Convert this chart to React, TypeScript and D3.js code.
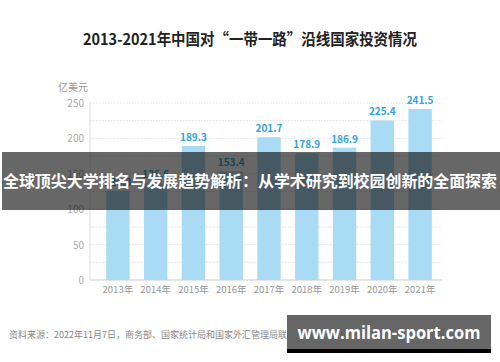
import React, { useEffect, useRef } from 'react'
import * as d3 from 'd3'

const years = ['2013年', '2014年', '2015年', '2016年', '2017年', '2018年', '2019年', '2020年', '2021年']
const values = [126.3, 136.6, 189.3, 153.4, 201.7, 178.9, 186.9, 225.4, 241.5]
const yTicks = [0, 50, 100, 150, 200, 250]
const gridTicks = [25, 50, 75, 100, 125, 150, 175, 200, 225, 250]

const title = '2013-2021年中国对“一带一路”沿线国家投资情况'
const unit = '亿美元'
const source = '资料来源：2022年11月7日，商务部、国家统计局和国家外汇管理局联合发布《2021年度中国对外直接投资统计公报》'
const banner = '全球顶尖大学排名与发展趋势解析：从学术研究到校园创新的全面探索'
const watermark = 'www.milan-sport.com'

const font = '"Noto Sans CJK SC", "Noto Sans", sans-serif'

const App = () => {
    const ref = useRef<SVGSVGElement>(null)

    useEffect(() => {
        const svg = d3.select(ref.current)
        svg.selectAll('*').remove()

        const x = d3.scaleBand<string>()
            .domain(years)
            .range([99, 439])
            .paddingInner(0.38)
            .paddingOuter(0.19)

        const y = d3.scaleLinear()
            .domain([0, 250])
            .range([280, 103])

        svg.append('rect').attr('width', 500).attr('height', 362).attr('fill', '#fff')

        svg.append('text')
            .attr('x', 250)
            .attr('y', 45)
            .attr('text-anchor', 'middle')
            .attr('font-family', font)
            .attr('font-size', 15.5)
            .attr('font-weight', 'bold')
            .attr('fill', '#222')
            .attr('textLength', 334)
            .attr('lengthAdjust', 'spacingAndGlyphs')
            .text(title)

        svg.append('text')
            .attr('x', 58)
            .attr('y', 91)
            .attr('font-family', font)
            .attr('font-size', 10)
            .attr('fill', '#999')
            .text(unit)

        // grid
        svg.append('g')
            .selectAll('line')
            .data(gridTicks)
            .enter()
            .append('line')
            .attr('x1', 90)
            .attr('x2', 442)
            .attr('y1', d => y(d))
            .attr('y2', d => y(d))
            .attr('stroke', '#d8d8d8')
            .attr('stroke-width', 0.8)
            .attr('stroke-dasharray', '1.5,1.5')

        svg.append('line')
            .attr('x1', 90).attr('x2', 90)
            .attr('y1', y(250)).attr('y2', y(0))
            .attr('stroke', '#ddd')

        svg.append('line')
            .attr('x1', 90).attr('x2', 442)
            .attr('y1', y(0)).attr('y2', y(0))
            .attr('stroke', '#ccc')
            .attr('stroke-width', 1.2)

        svg.append('g')
            .selectAll('text')
            .data(yTicks)
            .enter()
            .append('text')
            .attr('x', 84)
            .attr('y', d => y(d) + 4)
            .attr('text-anchor', 'end')
            .attr('font-family', font)
            .attr('font-size', 10)
            .attr('fill', '#aaa')
            .text(d => d)

        svg.append('g')
            .selectAll('rect')
            .data(values)
            .enter()
            .append('rect')
            .attr('x', (d, i) => x(years[i])!)
            .attr('y', d => y(d))
            .attr('width', x.bandwidth())
            .attr('height', d => y(0) - y(d))
            .attr('fill', '#a9dbf4')

        svg.append('g')
            .selectAll('text')
            .data(values)
            .enter()
            .append('text')
            .attr('x', (d, i) => x(years[i])! + x.bandwidth() / 2)
            .attr('y', d => y(d) - 5)
            .attr('text-anchor', 'middle')
            .attr('font-family', font)
            .attr('font-size', 10)
            .attr('font-weight', 'bold')
            .attr('fill', '#2fa6dc')
            .text(d => d.toFixed(1))

        svg.append('g')
            .selectAll('text')
            .data(years)
            .enter()
            .append('text')
            .attr('x', d => x(d)! + x.bandwidth() / 2)
            .attr('y', 293)
            .attr('text-anchor', 'middle')
            .attr('font-family', font)
            .attr('font-size', 9.5)
            .attr('fill', '#999')
            .text(d => d)

        svg.append('text')
            .attr('x', 9)
            .attr('y', 338)
            .attr('font-family', font)
            .attr('font-size', 9)
            .attr('fill', '#888')
            .text(source)

        // overlay banner
        svg.append('rect')
            .attr('x', 2).attr('y', 152)
            .attr('width', 498).attr('height', 58)
            .attr('fill', 'rgba(10,10,10,0.62)')

        svg.append('text')
            .attr('x', 250)
            .attr('y', 187)
            .attr('text-anchor', 'middle')
            .attr('font-family', font)
            .attr('font-size', 16)
            .attr('font-weight', 'bold')
            .attr('fill', '#fff')
            .attr('textLength', 494)
            .attr('lengthAdjust', 'spacingAndGlyphs')
            .text(banner)

        // watermark
        svg.append('rect')
            .attr('x', 287).attr('y', 315)
            .attr('width', 204).attr('height', 34)
            .attr('fill', '#666')
        svg.append('rect')
            .attr('x', 287).attr('y', 349)
            .attr('width', 204).attr('height', 4)
            .attr('fill', '#000')
        svg.append('text')
            .attr('x', 389)
            .attr('y', 339)
            .attr('text-anchor', 'middle')
            .attr('font-family', '"Open Sans", sans-serif')
            .attr('font-size', 18)
            .attr('font-weight', 'bold')
            .attr('fill', '#fff')
            .attr('textLength', 183)
            .attr('lengthAdjust', 'spacingAndGlyphs')
            .text(watermark)
    }, [])

    return (
        <svg ref={ref} width={500} height={362} style={{ position: 'absolute', left: 0, top: 0 }} />
    )
}

export default App
